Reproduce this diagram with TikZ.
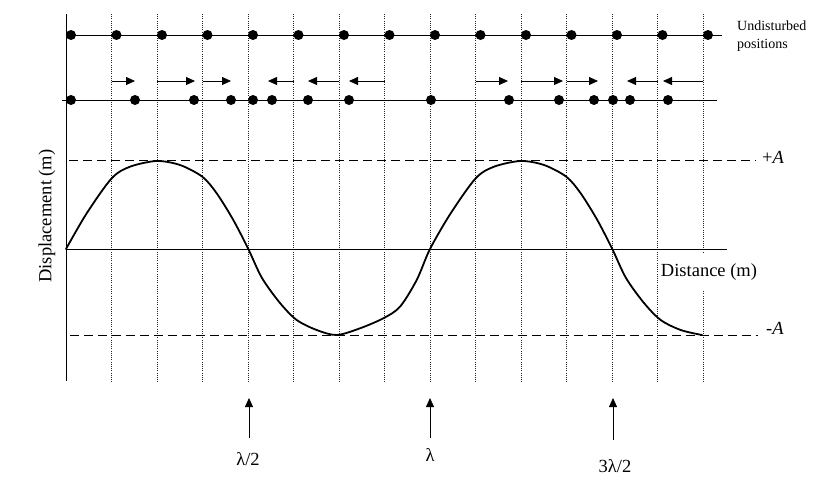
\documentclass[tikz,border=0pt]{standalone}
\usepackage{fontspec}
\setmainfont{Liberation Serif}
\usetikzlibrary{arrows.meta}

\begin{document}
\begin{tikzpicture} [x=1pt,y=-1pt,
 every node/.style={inner sep=1pt,font=\fontsize{18.5}{20}\selectfont},
 gridline/.style={line width=0.7pt,black!85,dash pattern=on 1pt off 1.2pt},
 ampline/.style={line width=0.8pt,dash pattern=on 9pt off 5pt},
 axisline/.style={line width=0.8pt},
 particle/.style={circle,fill=black,inner sep=0pt,minimum size=10pt},
 push/.style={line width=0.8pt,-{Triangle[length=9pt,width=8pt]}},
 pointer/.style={line width=0.8pt,-{Triangle[length=9pt,width=8pt]}},
 wave/.style={line width=1.8pt,line join=round,line cap=round},
]
    \fill[white] (0,0) rectangle (831,491);
    \useasboundingbox (0,0) rectangle (831,491);
    \foreach \k in {1,...,14}
        \draw[gridline] ({66+45.5*\k},14) -- ({66+45.5*\k},382);
    \draw[axisline] (66,14) -- (66,381);
    \draw[axisline] (66,249) -- (727,249);
    \draw[ampline] (69,160) -- (756,160);
    \draw[ampline] (70,335) -- (758,335);
    \draw[axisline] (66,35) -- (722,35);
    \draw[axisline] (62,100) -- (717,100);
    \foreach \k in {0,...,14}
        \node[particle] (u\k) at ({71+45.5*\k},35) {};
    \foreach \x [count=\k from 0] in {71,135,194,231,253,272,308,349,431,509,559,594,613,630,668}
        \node[particle] (d\k) at (\x,100) {};
    \foreach \a/\b [count=\i] in {111.5/135,157/195,202.5/231,293.5/268,339/308,384.5/349,475.5/508,521/563,566.5/598,657.5/627,703/663}
        {\coordinate (s\i) at (\a,81); \coordinate (e\i) at (\b,81); \draw[push] (s\i) -- (e\i);}
    \draw[wave] plot[smooth] coordinates {(66,249) (86.7,213.3) (111.7,178.3) (130,166.7) (156.7,161) (180,165) (202.3,176.7) (216.7,193.3) (233.3,220) (248.3,249) (262,278) (280,303) (296.7,320) (316.7,330) (336.7,335) (360,328.3) (383.3,318.3) (400,306.7) (416.7,280) (430,249) (450.7,213.3) (475.7,178.3) (494,166.7) (520.7,161) (544,165) (566.3,176.7) (580.7,193.3) (597.3,220) (612.3,249) (626,278) (644,303) (660.7,320) (680.7,330) (702,335)};
    \node[fill=white,minimum height=37pt,inner sep=3pt] (dist) at (709,272) {Distance (m)};
    \node[rotate=90] (disp) at (47,216) {Displacement (m)};
    \node[anchor=west] (plusA) at (761,157) {+\textit{A}};
    \node[anchor=west] (minusA) at (765,328) {-\textit{A}};
    \node[anchor=west,align=left,font=\fontsize{14}{18}\selectfont] (undist) at (736,36) {Undisturbed\\positions};
    \coordinate (b1) at (249,438); \coordinate (t1) at (249,398);
    \coordinate (b2) at (430,438); \coordinate (t2) at (430,398);
    \coordinate (b3) at (613,440); \coordinate (t3) at (613,398);
    \draw[pointer] (b1) -- (t1);
    \draw[pointer] (b2) -- (t2);
    \draw[pointer] (b3) -- (t3);
    \node (half) at (248,459) {λ/2};
    \node (full) at (430,455) {λ};
    \node (threehalf) at (615,466) {3λ/2};
\end{tikzpicture}
\end{document}
